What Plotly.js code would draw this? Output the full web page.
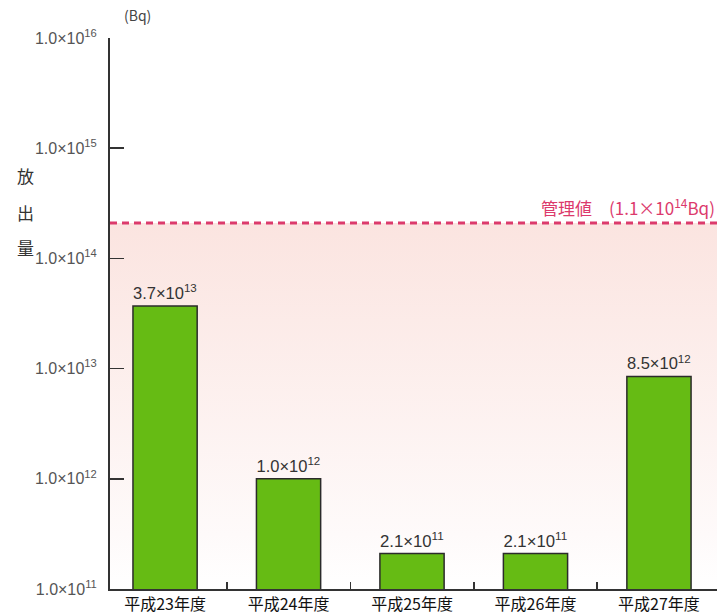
<!DOCTYPE html>
<html>
<head>
<meta charset="utf-8">
<script src="https://cdn.plot.ly/plotly-3.0.1.min.js"></script>
<style>html,body{margin:0;padding:0;background:#fff;}#chart{width:717px;height:616px;}</style>
</head>
<body>
<div id="chart"></div>
<script>
// ---- data ----
const categories = ["平成23年度", "平成24年度", "平成25年度", "平成26年度", "平成27年度"];
const releaseBq = [3.7e13, 1.0e12, 2.1e11, 2.1e11, 8.5e12];
const barLabels = ["3.7×10<sup>13</sup>", "1.0×10<sup>12</sup>", "2.1×10<sup>11</sup>", "2.1×10<sup>11</sup>", "8.5×10<sup>12</sup>"];
const managementLevel = 2.1e14;   // position of dashed line as drawn
const managementLabel = "管理値　(1.1×10<sup>14</sup>Bq)";
const yTickVals = [1e11, 1e12, 1e13, 1e14, 1e15, 1e16];
const yTickText = ["1.0×10<sup>11</sup>", "1.0×10<sup>12</sup>", "1.0×10<sup>13</sup>", "1.0×10<sup>14</sup>", "1.0×10<sup>15</sup>", "1.0×10<sup>16</sup>"];
const yAxisBottom = 1e11;

const cjk = '"Noto Sans CJK JP", "Liberation Sans", sans-serif';

const traces = [
  {
    type: 'scatter', mode: 'none', xaxis: 'x', yaxis: 'y',
    x: [0, 1, 1, 0, 0],
    y: [yAxisBottom, yAxisBottom, managementLevel, managementLevel, yAxisBottom],
    fill: 'toself',
    fillgradient: {type: 'vertical', colorscale: [[0, '#ffffff'], [0.15, '#fefafa'], [1, '#fbe4e0']]},
    hoverinfo: 'skip', showlegend: false
  },
  {
    type: 'scatter', mode: 'lines', xaxis: 'x', yaxis: 'y',
    x: [0, 1], y: [managementLevel, managementLevel],
    line: {color: '#dc3a6c', width: 3, dash: '7px,5px'},
    hoverinfo: 'skip', showlegend: false
  },
  {
    type: 'bar', xaxis: 'x2', yaxis: 'y',
    x: categories, y: releaseBq,
    width: 0.52,
    marker: {color: '#66bb14', line: {color: '#2b2b2b', width: 1.5}},
    text: barLabels, textposition: 'outside', cliponaxis: false,
    textfont: {family: '"Liberation Sans", sans-serif', size: 17, color: '#333'},
    showlegend: false
  }
];

const layout = {
  width: 717, height: 616,
  margin: {l: 110, r: 0, t: 38, b: 27},
  paper_bgcolor: '#fff', plot_bgcolor: 'rgba(0,0,0,0)',
  showlegend: false,
  xaxis: {type: 'linear', range: [0, 1], visible: false, fixedrange: true},
  xaxis2: {
    type: 'category', overlaying: 'x', anchor: 'y', side: 'bottom',
    range: [-0.446, 4.47],
    showline: true, linecolor: '#333', linewidth: 2,
    ticks: 'inside', tickson: 'boundaries', ticklen: 7, tickwidth: 1.5, tickcolor: '#333',
    showgrid: false, zeroline: false,
    tickfont: {family: cjk, size: 16, color: '#111'},
    ticklabelstandoff: 0
  },
  yaxis: {
    type: 'log', range: [11, 16],
    showline: true, linecolor: '#333', linewidth: 2,
    ticks: 'inside', ticklen: 14, tickwidth: 1.5, tickcolor: '#333',
    tickvals: yTickVals, ticktext: yTickText,
    tickfont: {family: '"Liberation Sans", sans-serif', size: 16, color: '#555'},
    ticklabelstandoff: 8,
    showgrid: false, zeroline: false
  },
  annotations: [
    {text: '(Bq)', xref: 'paper', yref: 'paper', x: 0.046, y: 1.042, xanchor: 'center', yanchor: 'middle',
     showarrow: false, font: {family: cjk, size: 14, color: '#444'}},
    {text: '放', xref: 'paper', yref: 'paper', x: -0.14, y: 0.751, xanchor: 'center', yanchor: 'middle',
     showarrow: false, font: {family: cjk, size: 17, color: '#333'}},
    {text: '出', xref: 'paper', yref: 'paper', x: -0.14, y: 0.684, xanchor: 'center', yanchor: 'middle',
     showarrow: false, font: {family: cjk, size: 17, color: '#333'}},
    {text: '量', xref: 'paper', yref: 'paper', x: -0.14, y: 0.619, xanchor: 'center', yanchor: 'middle',
     showarrow: false, font: {family: cjk, size: 17, color: '#333'}},
    {text: managementLabel, xref: 'paper', yref: 'paper', x: 1.0, xanchor: 'right', y: 0.693, yanchor: 'middle',
     showarrow: false, font: {family: cjk, size: 17, color: '#dc3a6c'}}
  ]
};

Plotly.newPlot('chart', traces, layout, {displayModeBar: false, staticPlot: true});
</script>
</body>
</html>
